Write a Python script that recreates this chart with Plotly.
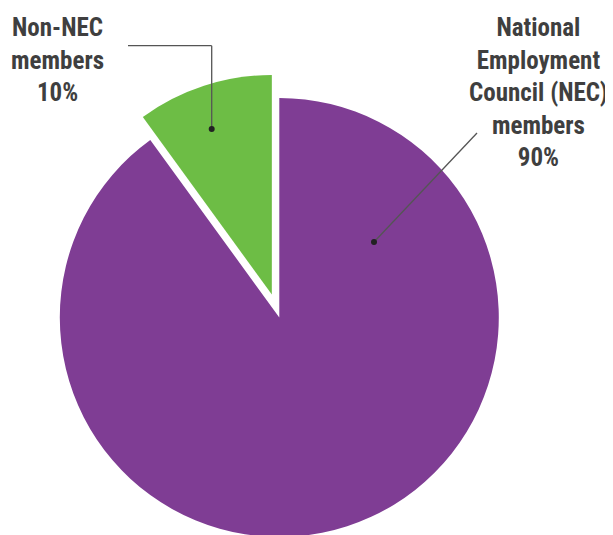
import plotly.graph_objects as go

# data
labels = ["National Employment Council (NEC) members", "Non-NEC members"]
values = [90, 10]
colors = ["#7f3d94", "#6dbd45"]
label_text = ["National<br>Employment<br>Council (NEC)<br>members<br>90%",
              "Non-NEC<br>members<br>10%"]

W, H = 605, 560
OFF = 8  # page body margin


def px(x):
    return (x - OFF) / W


def py(y):
    return 1 - (y - OFF) / H


# pie geometry in page pixels
cx, cy, r, pull = 279.3, 317.5, 219.5, 0.11
half = r * (1 + pull)

fig = go.Figure(go.Pie(
    labels=labels, values=values, sort=False, direction="clockwise",
    marker=dict(colors=colors, line=dict(width=0)),
    pull=[0, pull], textinfo="none", hoverinfo="label+percent",
    domain=dict(x=[px(cx - half), px(cx + half)], y=[py(cy + half), py(cy - half)]),
))

font = dict(family="Roboto Condensed, Roboto, sans-serif", size=25, color="#3f3f3f")
fig.add_annotation(x=px(538), y=py(11.5), xref="paper", yref="paper", showarrow=False,
                   xanchor="center", yanchor="top", align="center",
                   text="<b>" + label_text[0] + "</b>", font=font)
fig.add_annotation(x=px(57), y=py(11.5), xref="paper", yref="paper", showarrow=False,
                   xanchor="center", yanchor="top", align="center",
                   text="<b>" + label_text[1] + "</b>", font=font)

# leader lines
line = dict(color="#555555", width=1.3)
fig.add_shape(type="line", xref="paper", yref="paper",
              x0=px(128), y0=py(45.7), x1=px(211.7), y1=py(45.7), line=line)
fig.add_shape(type="line", xref="paper", yref="paper",
              x0=px(211.7), y0=py(45.7), x1=px(211.7), y1=py(129), line=line)
fig.add_shape(type="line", xref="paper", yref="paper",
              x0=px(477), y0=py(133), x1=px(374), y1=py(242), line=line)
for dx, dy in [(211.7, 129), (374, 242)]:
    fig.add_shape(type="circle", xref="paper", yref="paper",
                  xsizemode="pixel", ysizemode="pixel",
                  xanchor=px(dx), yanchor=py(dy), x0=-3, x1=3, y0=-3, y1=3,
                  fillcolor="#222222", line=dict(width=0))

fig.update_layout(width=W, height=H, margin=dict(l=0, r=0, t=0, b=0),
                  showlegend=False, paper_bgcolor="white")
fig.write_html("out.html")
